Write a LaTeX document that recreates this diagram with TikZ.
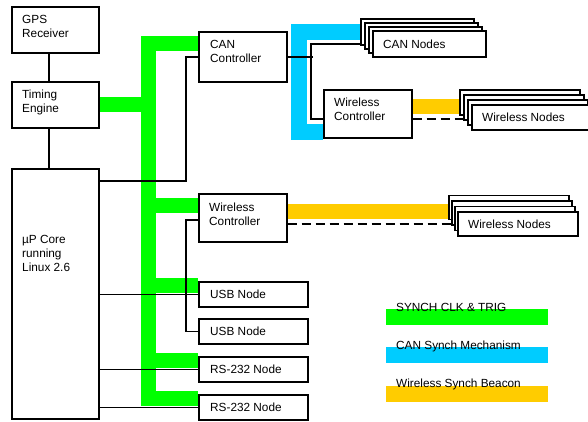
\documentclass[tikz,border=0pt]{standalone}
\usepackage{fontspec}
\setmainfont{Liberation Sans}
\usetikzlibrary{calc, positioning, backgrounds}
\definecolor{clkgreen}{RGB}{0,255,0}
\definecolor{canblue}{RGB}{0,204,255}
\definecolor{beaconyellow}{RGB}{255,204,0}

% stack of boxes: name, x, y, width, height, dx, dy, text
\newcommand{\nodestack}[8]{%
  \foreach \i in {3,2,1}
    \node[box, minimum width=#4, minimum height=#5] (#1-\i) at (#2-#6*\i, #3-#7*\i) {};
  \node[box, minimum width=#4, minimum height=#5,
        label={[lbl, anchor=west, xshift=11pt]west:#8}] (#1) at (#2,#3) {};
}

\begin{document}
\begin{tikzpicture}[x=1pt, y=-1pt,
  box/.style={draw, fill=white, line width=1.6pt, anchor=north west, inner sep=0pt},
  lbl/.style={font=\fontsize{11.8}{14}\selectfont, align=left, inner sep=0pt},
  clkbus/.style={draw=clkgreen, line width=15pt},
  canbus/.style={draw=canblue, line width=16pt},
  beacon/.style={draw=beaconyellow, line width=15pt},
  wire/.style={line width=1.4pt},
  radio/.style={wire, dash pattern=on 9pt off 5pt}]
  \useasboundingbox (0,0) rectangle (588,421);
  % left column
  \node[box, minimum width=87, minimum height=46,
        label={[lbl, anchor=north west, xshift=11pt, yshift=-9pt]north west:{GPS\\Receiver}}] (gps) at (11,6) {};
  \node[box, minimum width=87, minimum height=46,
        label={[lbl, anchor=north west, xshift=11pt, yshift=-9pt]north west:{Timing\\Engine}}] (timing) at (11,81) {};
  \node[box, minimum width=87, minimum height=250,
        label={[lbl, anchor=north west, xshift=11pt, yshift=-67pt]north west:{µP Core\\running\\Linux 2.6}}] (cpu) at (11,168) {};
  % controllers and nodes
  \node[box, minimum width=88, minimum height=50,
        label={[lbl, anchor=north west, xshift=12pt, yshift=-9pt]north west:{CAN\\Controller}}] (canctl) at (198,31) {};
  \node[box, minimum width=88, minimum height=48,
        label={[lbl, anchor=north west, xshift=11pt, yshift=-10pt]north west:{Wireless\\Controller}}] (wlB) at (198,193) {};
  \node[box, minimum width=88, minimum height=48,
        label={[lbl, anchor=north west, xshift=11pt, yshift=-9pt]north west:{Wireless\\Controller}}] (wlA) at (323,89) {};
  \node[box, minimum width=109, minimum height=25,
        label={[lbl, anchor=west, xshift=12pt]west:USB Node}] (usbA) at (198,281) {};
  \node[box, minimum width=109, minimum height=25,
        label={[lbl, anchor=west, xshift=12pt]west:USB Node}] (usbB) at (198,318) {};
  \node[box, minimum width=109, minimum height=25,
        label={[lbl, anchor=west, xshift=12pt]west:RS-232 Node}] (rsA) at (198,356) {};
  \node[box, minimum width=109, minimum height=25,
        label={[lbl, anchor=west, xshift=12pt]west:RS-232 Node}] (rsB) at (198,394) {};
  \nodestack{cannodes}{372}{30}{113}{26}{4}{4}{CAN Nodes}
  \nodestack{wlnodesA}{471}{104}{120}{25}{4}{5}{Wireless Nodes}
  \nodestack{wlnodesB}{457}{211}{120}{24}{3}{5.5}{Wireless Nodes}
  % legend
  \fill[clkgreen] (386,309) rectangle (548,325);
  \node[lbl, anchor=base west] (key-clk) at (396,311) {SYNCH CLK \& TRIG};
  \fill[canblue] (386,347) rectangle (548,363);
  \node[lbl, anchor=base west] (key-can) at (396,349) {CAN Synch Mechanism};
  \fill[beaconyellow] (386,386) rectangle (548,402);
  \node[lbl, anchor=base west] (key-beacon) at (396,387) {Wireless Synch Beacon};

  \begin{scope}[on background layer]
    \coordinate (clk) at (148,0);
    \coordinate (can) at (298.5,0);
    \path ([yshift=-12.5pt]canctl.north west) coordinate (canctl-in)
          ([yshift=-12.5pt]wlB.north west) coordinate (wlB-in)
          ([yshift=-4.5pt]usbA.north west) coordinate (usbA-in)
          ([yshift=-4.5pt]rsA.north west) coordinate (rsA-in)
          ([yshift=-4pt]rsB.north west) coordinate (rsB-in)
          ([yshift=6.5pt]wlA.south west) coordinate (wlA-in)
          ([yshift=7.5pt]wlA.east) coordinate (wlA-out)
          ([yshift=6pt]wlB.east) coordinate (wlB-out)
          ([yshift=-5pt]wlA.east) coordinate (wlA-dash)
          ([yshift=-6pt]wlB.east) coordinate (wlB-dash);
    % synch clock bus
    \draw[clkbus] (canctl-in) -| (clk |- rsB-in) -- (rsB-in);
    \foreach \n in {wlB, usbA, rsA}
      \draw[clkbus] (clk |- \n-in) -- (\n-in);
    \draw[clkbus] (timing.east) -- (clk |- timing.east);
    % CAN synch
    \draw[canbus] (cannodes-3.west) -| (can |- wlA-in) -- (wlA-in);
    % wireless beacons
    \draw[beacon] (wlA-out) -- (wlA-out -| wlnodesA.west);
    \draw[beacon] (wlB-out) -- (wlB-out -| wlnodesB.west);
    % data links
    \draw[wire] ([xshift=-6.5pt]gps.south) -- ([xshift=-6.5pt]timing.north);
    \draw[wire] ([xshift=-6.5pt]timing.south) -- ([xshift=-6.5pt]cpu.north);
    \draw[wire] ([yshift=-13pt]cpu.north east) -| ([xshift=-12pt]canctl.west) -- (canctl.west);
    \draw[wire] ([yshift=-2pt]wlB.west) -- ++(-12,0) |- (usbB.west);
    \foreach \n in {usbA, rsA, rsB}
      \draw[wire] (cpu.east |- \n.west) -- (\n.west);
    \draw[wire] (canctl.east) -- ++(25,0);
    \draw[wire] (cannodes.west) -| ([xshift=-12pt, yshift=-5pt]wlA.west) -- ([yshift=-5pt]wlA.west);
    \draw[radio] (wlA-dash) -- (wlA-dash -| wlnodesA.west);
    \draw[radio] (wlB-dash) -- (wlB-dash -| wlnodesB.west);
  \end{scope}
\end{tikzpicture}
\end{document}
